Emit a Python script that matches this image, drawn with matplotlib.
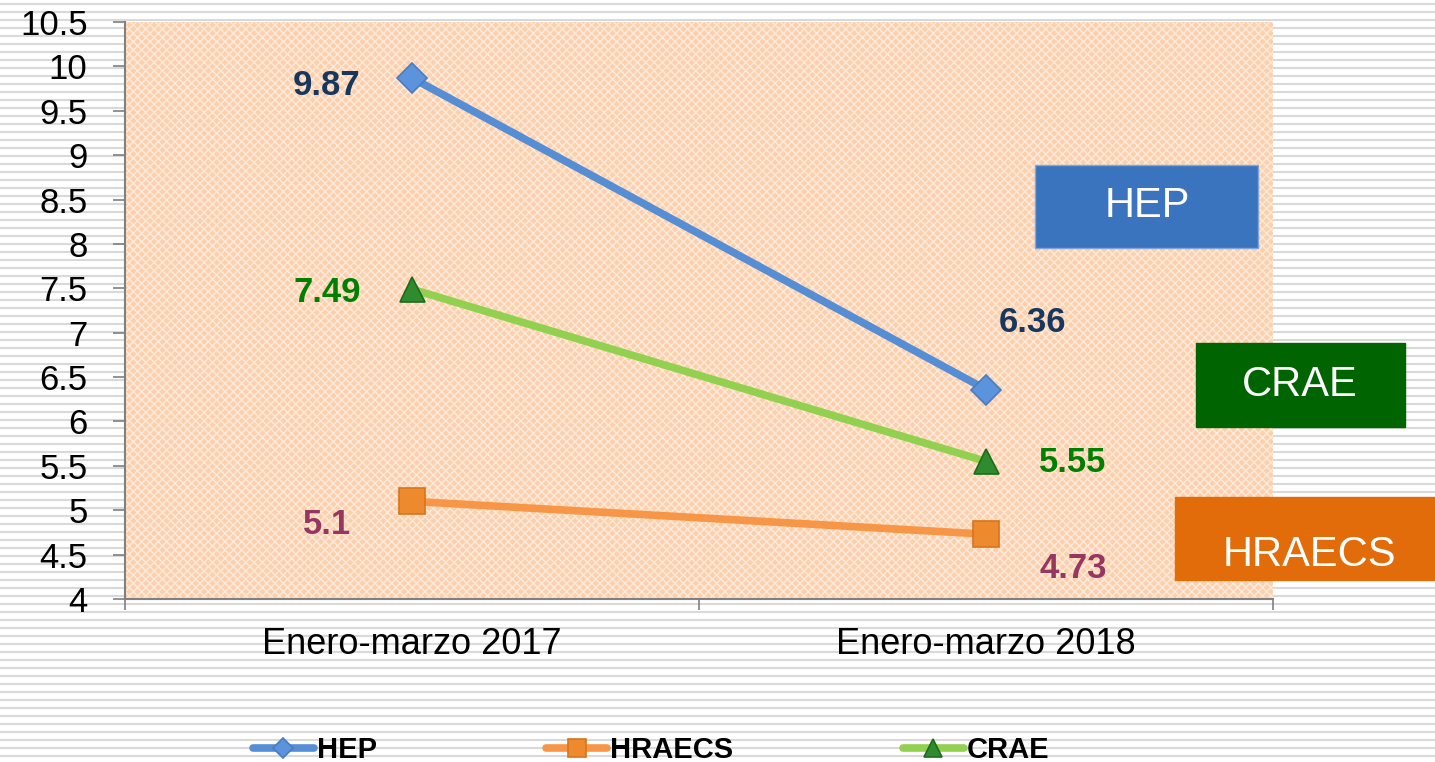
import numpy as np
import matplotlib.pyplot as plt
from matplotlib.patches import Rectangle
from matplotlib.ticker import FuncFormatter, MultipleLocator

plt.rcParams['font.family'] = ['Liberation Sans', 'DejaVu Sans']
plt.rcParams['hatch.linewidth'] = 1.0

# data
periodos = ['Enero-marzo 2017', 'Enero-marzo 2018']
series = ['HEP', 'HRAECS', 'CRAE']
hep = [9.87, 6.36]
hraecs = [5.1, 4.73]
crae = [7.49, 5.55]

W, H = 1435, 762
fig = plt.figure(figsize=(W / 100, H / 100), dpi=100)
fig.patch.set_facecolor('white')

# striped background of the slide
bg = fig.add_axes([0, 0, 1, 1], zorder=-10)
bg.set_xlim(0, W)
bg.set_ylim(H, 0)
bg.axis('off')
for yy in np.arange(4, H, 8):
    bg.axhline(yy, color='#D9D9D9', lw=1.5)

def fx(px):
    return px / W

def fy(py):
    return 1 - py / H

ax = fig.add_axes([fx(125), fy(599), fx(1273) - fx(125), fy(22) - fy(599)])
ax.set_facecolor('#FCD0AC')
ax.add_patch(Rectangle((0, 0), 1, 1, transform=ax.transAxes, facecolor='none',
                       edgecolor='#FFEBDC', hatch='xxxx', lw=0, zorder=0))

x = np.arange(len(periodos))
styles = {
    'HEP': dict(color='#558ED5', marker='D', mfc='#5B93DD', mec='#4A7CC0', ms=15),
    'HRAECS': dict(color='#F79646', marker='s', mfc='#EE8A2E', mec='#D9741C', ms=19),
    'CRAE': dict(color='#92D050', marker='^', mfc='#2E8B2E', mec='#1E6B1E', ms=18),
}
vals = {'HEP': hep, 'HRAECS': hraecs, 'CRAE': crae}
for s in series:
    st = styles[s]
    ax.plot(x, vals[s], color=st['color'], lw=5.5, marker=st['marker'], ms=st['ms'],
            mfc=st['mfc'], mec=st['mec'], mew=1.2, solid_capstyle='round',
            label=s, zorder=3)

# data labels
lab_color = {'HEP': '#17375E', 'HRAECS': '#953760', 'CRAE': '#008000'}
offsets = {
    'HEP': [(-85, -8), (47, 67)],
    'HRAECS': [(-85, -23), (87, -34)],
    'CRAE': [(-85, -3), (87, -1)],
}
for s in series:
    for i, v in enumerate(vals[s]):
        ax.annotate('%g' % v, (x[i], v), xytext=offsets[s][i], textcoords='offset pixels',
                    ha='center', va='center', fontsize=25, fontweight='bold',
                    color=lab_color[s], zorder=4)

ax.set_xlim(-0.5, 1.5)
ax.set_ylim(4, 10.5)
ax.yaxis.set_major_locator(MultipleLocator(0.5))
ax.yaxis.set_major_formatter(FuncFormatter(lambda v, p: '%g' % v))
ax.set_xticks(x)
ax.set_xticklabels(periodos)
ax.set_xticks([-0.5, 0.5, 1.5], minor=True)
ax.tick_params(axis='x', which='major', length=0, labelsize=26, pad=20)
ax.tick_params(axis='x', which='minor', length=8, color='#808080', width=1.2)
ax.tick_params(axis='y', length=9, color='#808080', width=1.2, labelsize=25, pad=18)
for sp in ['top', 'right']:
    ax.spines[sp].set_visible(False)
for sp in ['left', 'bottom']:
    ax.spines[sp].set_color('#808080')
    ax.spines[sp].set_linewidth(1.5)

# boxes on the right
boxes = [
    ('HEP', 1035, 165, 223, 83, '#3A74BF', 1147, 206),
    ('CRAE', 1196, 343, 209, 84, '#006400', 1300, 385),
    ('HRAECS', 1175, 497, 270, 83, '#E36C0A', 1309, 555),
]
for txt, bx, by, bw, bh, col, tx, ty in boxes:
    fig.add_artist(Rectangle((fx(bx), fy(by + bh)), bw / W, bh / H, transform=fig.transFigure,
                             facecolor=col, edgecolor='#7FA6D9' if txt == 'HEP' else col,
                             lw=1, zorder=5))
    fig.text(fx(tx), fy(ty), txt, color='white',
             fontsize=30, ha='center', va='center', zorder=6)

leg = fig.legend(loc='center', bbox_to_anchor=(fx(651), fy(750)), ncol=3, frameon=False,
                 columnspacing=5.8, handlelength=2.1, handletextpad=0.1, markerscale=0.7,
                 prop={'weight': 'bold', 'size': 21})

fig.savefig('out.png', dpi=100)
